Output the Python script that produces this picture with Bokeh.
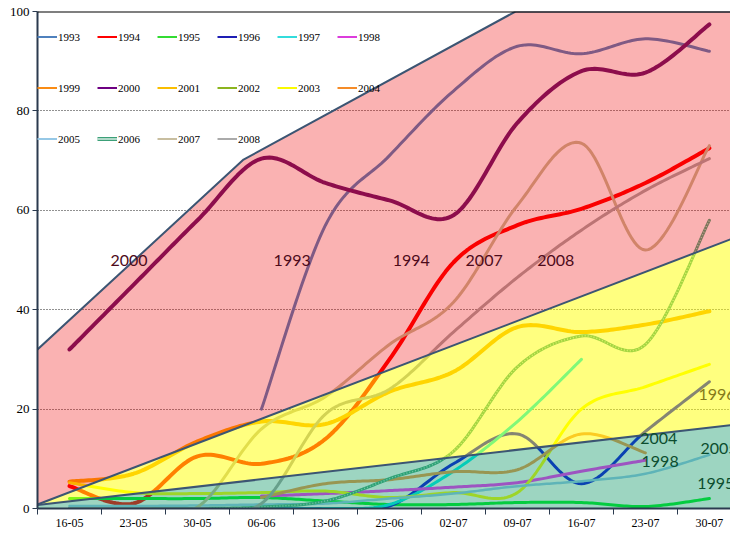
import numpy as np
from bokeh.plotting import figure
from bokeh.models import Range1d, FixedTicker, Legend, LegendItem, Span
from bokeh.core.properties import value
from bokeh.embed import file_html
from bokeh.resources import INLINE

nan = float("nan")

# ---------------- data ----------------
dates = ["16-05", "23-05", "30-05", "06-06", "13-06", "25-06",
         "02-07", "09-07", "16-07", "23-07", "30-07"]
years = ["1993", "1994", "1995", "1996", "1997", "1998", "1999", "2000",
         "2001", "2002", "2003", "2004", "2005", "2006", "2007", "2008"]

v1993 = [nan, nan, nan, 20, 57, 71, 84, 93, 91.5, 94.5, 92]
v1994 = [4.5, 1, 10.5, 9, 14, 30, 49.5, 57, 60.3, 65.5, 72.5]
v1995 = [2, 2, 2, 2.2, 1.5, 0.8, 0.8, 1.2, 1.2, 0.4, 2]
v1996 = [0, 0, 0, 0, 0, 0.5, 9, 15, 5, 15.5, 25.5]
v1997 = [nan, nan, nan, 0, 0, 0.8, 7.5, 17.5, 30, nan, nan]
v1998 = [nan, nan, nan, 2.5, 3, 3.6, 4.3, 5.2, 7.5, 9.7, nan]
v1999 = [nan] * 11
v2000 = [32, 45, 58, 70.4, 65.5, 62, 59, 77.6, 88, 87.7, 97.4]
v2001 = [5.4, 7, 13.5, 17.5, 17, 23.5, 27.5, 36.5, 35.5, 37, 39.7]
v2002 = [nan] * 11
v2003 = [5.2, 3.2, 3, 3.2, 3.5, 2.2, 3.2, 3.2, 20, 24.5, 29]
v2004 = [nan, nan, nan, 2.2, 5, 5.8, 7.4, 7.8, 15, 11.2, nan]
v2005 = [0.5, 0.5, 0.6, 0.8, 1, 2, 3, 4.5, 5.5, 7, 10.8]
v2006 = [0, 0, 0, 0.3, 1.5, 6, 11.5, 28.5, 34.7, 33, 58]
v2007 = [0, 0, 0.3, 16, 22.5, 33, 41.5, 61, 73.5, 52, 73]
v2008 = [0, 0, 0, 1, 19, 24, 35.5, 46.5, 56, 64, 70.4]

series = {"1993": v1993, "1994": v1994, "1995": v1995, "1996": v1996,
          "1997": v1997, "1998": v1998, "1999": v1999, "2000": v2000,
          "2001": v2001, "2002": v2002, "2003": v2003, "2004": v2004,
          "2005": v2005, "2006": v2006, "2007": v2007, "2008": v2008}

# background bands (value bands, drawn as translucent overlays)
band_x = [-0.5, 10.5]
band_low_top = [0.7, 17.0]
band_mid_top = [0.8, 55.0]
band_high_x = [-0.5, 2.72, 6.97, 10.5]
band_high_top = [32.0, 70.2, 100.0, 100.0]

# in-chart labels
lab_text = ["2000", "1993", "1994", "2007", "2008"]
lab_x = [0.64, 3.19, 5.05, 6.19, 7.31]
lab_y = [49.8, 49.8, 49.8, 49.8, 49.8]
lab2_text = ["1996", "2004", "1998", "2005", "1995"]
lab2_x = [9.83, 8.92, 8.94, 9.86, 9.81]
lab2_y = [23.0, 14.1, 9.5, 12.1, 5.0]

# ---------------- styles ----------------
line_colors = {
    "1993": "#4f81bd", "1994": "#ff0000", "1995": "#00f028", "1996": "#0a0ae6",
    "1997": "#00f0f0", "1998": "#ff28ff", "1999": "#ff8c00", "2000": "#64146e",
    "2001": "#ffaa00", "2002": "#8cb41e", "2003": "#ffff00", "2004": "#f79646",
    "2005": "#96c8f0", "2006": "#46aa82", "2007": "#c4bd97", "2008": "#a6a6a6",
}
legend_colors = {
    "1993": "#4f81bd", "1994": "#ff0000", "1995": "#32dc32", "1996": "#1e1eb4",
    "1997": "#32dcdc", "1998": "#dc3cdc", "1999": "#fa8c14", "2000": "#6e0082",
    "2001": "#fabe00", "2002": "#8cb41e", "2003": "#fafa00", "2004": "#f58c28",
    "2005": "#96c8e6", "2006": "#3ca078", "2007": "#c8bea0", "2008": "#aaaaaa",
}
line_widths = {y: 3 for y in years}
line_widths.update({"2000": 4, "1994": 4, "2001": 4, "2005": 2.5})


def catmull(xs, ys, n=24):
    xs = list(xs)
    ys = list(ys)
    m = len(xs)
    if m < 2:
        return xs, ys
    ox, oy = [], []
    for i in range(m - 1):
        p0 = (xs[i - 1], ys[i - 1]) if i > 0 else (xs[i], ys[i])
        p1 = (xs[i], ys[i])
        p2 = (xs[i + 1], ys[i + 1])
        p3 = (xs[i + 2], ys[i + 2]) if i + 2 < m else p2
        t = np.linspace(0, 1, n, endpoint=(i == m - 2))
        for k, out in ((0, ox), (1, oy)):
            a0, a1, a2, a3 = p0[k], p1[k], p2[k], p3[k]
            out.extend(0.5 * (2 * a1 + (-a0 + a2) * t
                              + (2 * a0 - 5 * a1 + 4 * a2 - a3) * t ** 2
                              + (-a0 + 3 * a1 - 3 * a2 + a3) * t ** 3))
    return ox, oy


def runs(vals):
    cur_x, cur_y = [], []
    for i, v in enumerate(vals):
        if v == v:
            cur_x.append(i)
            cur_y.append(v)
        else:
            if cur_x:
                yield cur_x, cur_y
            cur_x, cur_y = [], []
    if cur_x:
        yield cur_x, cur_y


p = figure(width=730, height=529, x_range=Range1d(-0.5, 10.33), y_range=Range1d(0, 100),
           output_backend="svg", toolbar_location=None,
           min_border_left=37, min_border_right=0, min_border_top=11, min_border_bottom=0)
p.outline_line_color = None
p.background_fill_color = "white"
p.border_fill_color = "white"

# axes
ax = p.xaxis[0]
ax.ticker = FixedTicker(ticks=list(range(len(dates))),
                        minor_ticks=[i - 0.5 for i in range(len(dates) + 1)])
ax.major_label_overrides = {i: d for i, d in enumerate(dates)}
ax.major_tick_line_color = None
ax.major_tick_out = 0
ax.major_tick_in = 0
ax.minor_tick_out = 6
ax.minor_tick_in = 0
ax.minor_tick_line_color = "#2b3a4f"
ax.axis_line_color = "#2b3a4f"
ax.axis_line_width = 2
ax.major_label_text_font = "Liberation Serif"
ax.major_label_text_font_size = "12px"
ax.major_label_text_color = "black"
ax.major_label_standoff = 4

ay = p.yaxis[0]
ay.ticker = FixedTicker(ticks=[0, 20, 40, 60, 80, 100])
ay.major_tick_out = 5
ay.major_tick_in = 0
ay.minor_tick_line_color = None
ay.major_tick_line_color = "#2b3a4f"
ay.axis_line_color = "#2b3a4f"
ay.axis_line_width = 2
ay.major_label_text_font = "Liberation Serif"
ay.major_label_text_font_size = "13px"
ay.major_label_text_color = "black"
ay.major_label_standoff = 3

p.xgrid.visible = False
p.ygrid.ticker = FixedTicker(ticks=[20, 40, 60, 80])
p.ygrid.grid_line_color = "#222222"
p.ygrid.grid_line_dash = "1 2"
p.ygrid.grid_line_width = 1

# series lines
for yr in years:
    for rx, ry in runs(series[yr]):
        sx, sy = catmull(rx, ry)
        p.line(sx, sy, line_color=line_colors[yr], line_width=line_widths[yr],
               line_cap="round", line_join="round")
        if yr == "2006":
            p.line(sx, sy, line_color="#d8f0e4", line_width=1.5, line_dash="1 2",
                   line_alpha=0.8)

# translucent bands on top of the lines
lx0, lx1 = band_x
p.patch([lx0, lx1, lx1, lx0], [band_low_top[0], band_low_top[1], 0, 0],
        fill_color="#0a9664", fill_alpha=0.4, line_color=None)
p.patch([lx0, lx1, lx1, lx0],
        [band_mid_top[0], band_mid_top[1], band_low_top[1], band_low_top[0]],
        fill_color="#ffff00", fill_alpha=0.5, line_color=None)
p.patch(band_high_x + [lx1, lx0], band_high_top + [band_mid_top[1], band_mid_top[0]],
        fill_color="#f00000", fill_alpha=0.3, line_color=None)
for bx, by in ((band_x, band_low_top), (band_x, band_mid_top), (band_high_x, band_high_top)):
    p.line(bx, by, line_color="#3c5573", line_width=2)

p.add_layout(Span(location=100, dimension="width", line_color="black", line_width=2))

# labels
p.text(lab_x, lab_y, text=lab_text, text_font=value("Lato"), text_font_size="16px",
       text_color="#4d0a1a", text_baseline="middle", text_align="left")
lab2_colors = ["#857a1a", "#0b4d2e", "#0b4d2e", "#0b4d2e", "#0b4d2e"]
p.text(lab2_x, lab2_y, text=lab2_text, text_font=value("Lato"), text_font_size="16px",
       text_color=lab2_colors, text_baseline="middle", text_align="left")

# legend (three rows); legend swatches are off-screen lines so only their glyphs show
off_x = [-9, -8]
off_y = [-9, -9]
leg_r = {}
for yr in years:
    if yr == "2006":
        r1 = p.line(x=off_x, y=off_y, line_color=legend_colors[yr], line_width=4)
        r2 = p.line(x=off_x, y=off_y, line_color="white", line_width=1.2)
        leg_r[yr] = [r1, r2]
    else:
        leg_r[yr] = [p.line(x=off_x, y=off_y, line_color=legend_colors[yr], line_width=2)]

rows = [years[0:6], years[6:12], years[12:16]]
bottoms = [465, 414, 363]
for row, b in zip(rows, bottoms):
    leg = Legend(items=[LegendItem(label=yr, renderers=leg_r[yr]) for yr in row],
                 location=(0, b), orientation="horizontal",
                 glyph_width=20, glyph_height=13, label_height=13, label_width=29,
                 label_standoff=1, spacing=10, padding=0, margin=0,
                 border_line_color=None, background_fill_alpha=0,
                 label_text_font="Liberation Serif", label_text_font_size="11px",
                 label_text_color="black")
    p.add_layout(leg)

open("out.html", "w").write(file_html(p, INLINE))
